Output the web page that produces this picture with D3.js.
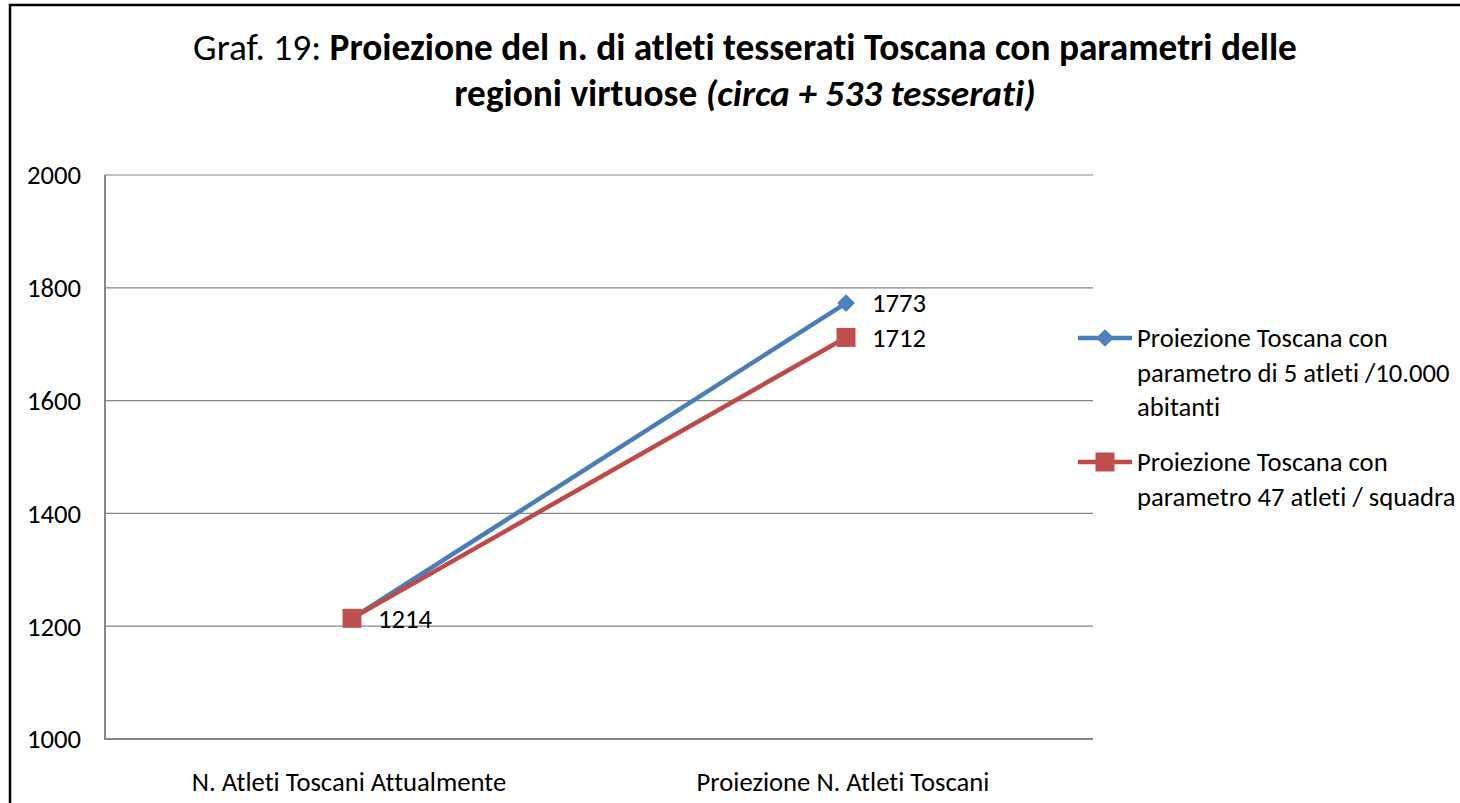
<!DOCTYPE html>
<html>
<head>
<meta charset="utf-8">
<script src="https://cdn.jsdelivr.net/npm/d3@7"></script>
<style>
  body { margin: 0; background: #fff; }
  svg { font-family: Carlito, Calibri, Lato, sans-serif; font-variant-ligatures: none; }
</style>
</head>
<body>
<svg id="chart" width="1460" height="803"></svg>
<script>
// chart values
const categories = ["N. Atleti Toscani Attualmente", "Proiezione N. Atleti Toscani"];
const seriesNames = [
    ["Proiezione Toscana con", "parametro di 5 atleti /10.000", "abitanti"],
    ["Proiezione Toscana con", "parametro 47 atleti / squadra"]
];
const seriesA = [1214, 1773];   // 5 atleti / 10.000 abitanti
const seriesB = [1214, 1712];   // 47 atleti / squadra
const yTicks = [1000, 1200, 1400, 1600, 1800, 2000];

const svg = d3.select("#chart");
const fontSize = "26.67px";

// outer frame (right and bottom edges fall outside the picture)
svg.append("rect")
    .attr("x", 10).attr("y", 5)
    .attr("width", 1460).attr("height", 820)
    .attr("fill", "none")
    .attr("stroke", "#000")
    .attr("stroke-width", 2.5);

// title
const title = svg.append("text")
    .attr("text-anchor", "middle")
    .attr("font-size", "37.33px")
    .attr("fill", "#000");
const t1 = title.append("tspan").attr("x", 745).attr("y", 60);
t1.append("tspan").text("Graf. 19: ");
t1.append("tspan").attr("font-weight", "bold").text("Proiezione del n. di atleti tesserati Toscana con parametri delle");
const t2 = title.append("tspan").attr("x", 745).attr("y", 106).attr("font-weight", "bold");
t2.append("tspan").text("regioni virtuose ");
t2.append("tspan").attr("font-style", "italic").text("(circa + 533 tesserati)");

let x = d3.scaleBand().domain(categories).range([105, 1093]);
let y = d3.scaleLinear().domain([1000, 2000]).range([739, 175]);

// gridlines
svg.append("g")
    .selectAll("line")
    .data(yTicks)
    .join("line")
    .attr("x1", 105).attr("x2", 1093)
    .attr("y1", d => y(d)).attr("y2", d => y(d))
    .attr("stroke", "#868686")
    .attr("stroke-width", d => d === 1000 ? 2 : 1.2);

// y axis line
svg.append("line")
    .attr("x1", 105).attr("x2", 105)
    .attr("y1", y(2000)).attr("y2", y(1000) + 1)
    .attr("stroke", "#868686")
    .attr("stroke-width", 2);

// y tick labels
svg.append("g")
    .selectAll("text")
    .data(yTicks)
    .join("text")
    .attr("x", 81)
    .attr("y", d => y(d))
    .attr("dy", "0.35em")
    .attr("text-anchor", "end")
    .attr("font-size", fontSize)
    .text(d => d);

// category labels
svg.append("g")
    .selectAll("text")
    .data(categories)
    .join("text")
    .attr("x", d => x(d) + x.bandwidth() / 2 - 3)
    .attr("y", 791)
    .attr("text-anchor", "middle")
    .attr("font-size", fontSize)
    .text(d => d);

const line = d3.line()
    .x((d, i) => x(categories[i]) + x.bandwidth() / 2)
    .y(d => y(d));

const blueLine = "#4A7EBB", blueMark = "#4F81BD";
const redLine = "#BE4B48", redMark = "#C0504D";

// series A (blue, diamonds)
svg.append("path")
    .datum(seriesA)
    .attr("d", line)
    .attr("fill", "none")
    .attr("stroke", blueLine)
    .attr("stroke-width", 4.5)
    .attr("stroke-linejoin", "round");

const diamond = d3.symbol().type(d3.symbolDiamond2).size(200);
svg.append("g")
    .selectAll("path")
    .data(seriesA)
    .join("path")
    .attr("transform", (d, i) => `translate(${x(categories[i]) + x.bandwidth() / 2},${y(d)})`)
    .attr("d", diamond)
    .attr("fill", blueMark);

// series B (red, squares)
svg.append("path")
    .datum(seriesB)
    .attr("d", line)
    .attr("fill", "none")
    .attr("stroke", redLine)
    .attr("stroke-width", 4.5)
    .attr("stroke-linejoin", "round");

svg.append("g")
    .selectAll("rect")
    .data(seriesB)
    .join("rect")
    .attr("x", (d, i) => x(categories[i]) + x.bandwidth() / 2 - 9.5)
    .attr("y", d => y(d) - 9.5)
    .attr("width", 19).attr("height", 19)
    .attr("fill", redMark);

// data labels
const labels = [
    { v: seriesA[1], i: 1 },
    { v: seriesB[1], i: 1 },
    { v: seriesB[0], i: 0 }
];
svg.append("g")
    .selectAll("text")
    .data(labels)
    .join("text")
    .attr("x", d => x(categories[d.i]) + x.bandwidth() / 2 + 26)
    .attr("y", d => y(d.v))
    .attr("dy", "0.35em")
    .attr("font-size", fontSize)
    .text(d => d.v);

// legend
const legendY = [338, 462];
const legend = svg.append("g");
seriesNames.forEach((lines, k) => {
    const g = legend.append("g").attr("transform", `translate(0,${legendY[k]})`);
    g.append("line")
        .attr("x1", 1078).attr("x2", 1132)
        .attr("y1", 0).attr("y2", 0)
        .attr("stroke", k === 0 ? blueLine : redLine)
        .attr("stroke-width", 4.5);
    if (k === 0) {
        g.append("path")
            .attr("transform", "translate(1105,0)")
            .attr("d", diamond)
            .attr("fill", blueMark);
    } else {
        g.append("rect")
            .attr("x", 1105 - 9.5).attr("y", -9.5)
            .attr("width", 19).attr("height", 19)
            .attr("fill", redMark);
    }
    g.selectAll("text")
        .data(lines)
        .join("text")
        .attr("x", 1137)
        .attr("y", (d, j) => j * 34.5)
        .attr("dy", "0.35em")
        .attr("font-size", fontSize)
        .text(d => d);
});
</script>
</body>
</html>
